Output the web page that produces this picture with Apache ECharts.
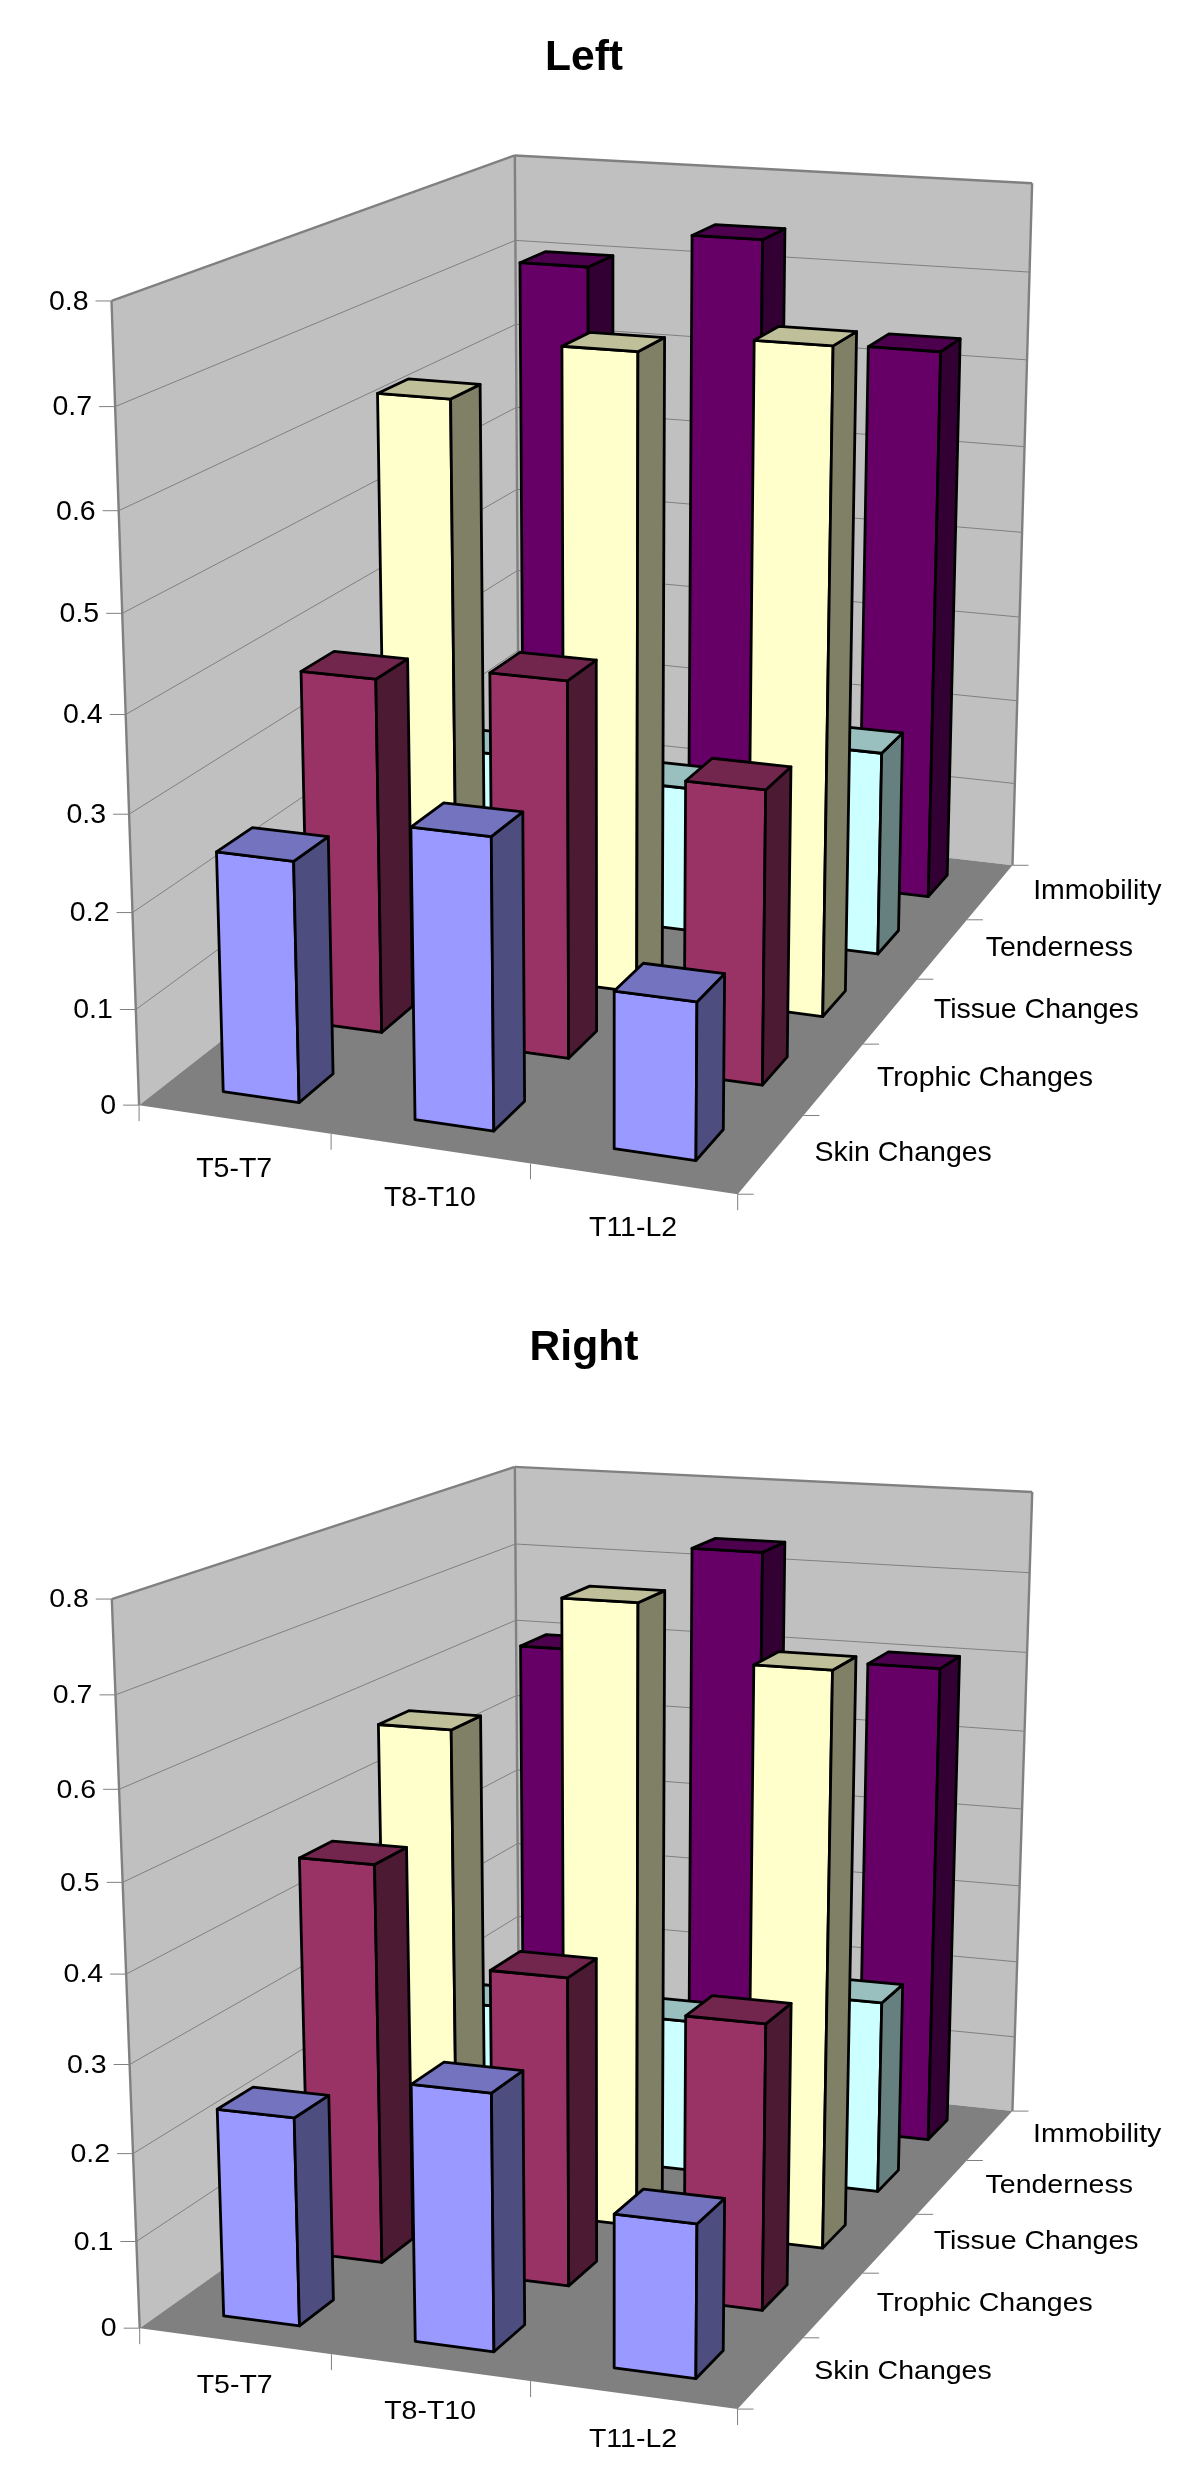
<!DOCTYPE html>
<html><head><meta charset="utf-8">
<style>html,body{margin:0;padding:0;background:#fff}#c{width:1200px;height:2477px}</style>
<script src="https://cdn.jsdelivr.net/npm/echarts@6/dist/echarts.min.js"></script>
</head><body><div id="c"></div>
<script>
// ---- data ----
const categories = ['T5-T7', 'T8-T10', 'T11-L2'];
const depthCategories = ['Skin Changes', 'Trophic Changes', 'Tissue Changes', 'Tenderness', 'Immobility'];
const tickValues = [0, 0.1, 0.2, 0.3, 0.4, 0.5, 0.6, 0.7, 0.8];
const tickLabels = ['0', '0.1', '0.2', '0.3', '0.4', '0.5', '0.6', '0.7', '0.8'];

const leftSkin = [0.25, 0.299, 0.16];
const leftTrophic = [0.379, 0.398, 0.308];
const leftTissue = [0.627, 0.691, 0.711];
const leftTenderness = [0.18, 0.165, 0.229];
const leftImmobility = [0.70, 0.743, 0.631];

const rightSkin = [0.238, 0.29, 0.172];
const rightTrophic = [0.468, 0.359, 0.329];
const rightTissue = [0.578, 0.739, 0.677];
const rightTenderness = [0.185, 0.19, 0.237];
const rightImmobility = [0.596, 0.732, 0.602];

// colours: front, top, side for each depth row
const palette = [
  ['#9999FF', '#7373BF', '#4D4D80'],
  ['#993366', '#73264D', '#4D1A33'],
  ['#FFFFCC', '#BFBF99', '#808066'],
  ['#CCFFFF', '#99BFBF', '#668080'],
  ['#660066', '#4D004D', '#330033']
];

// camera calibration: [u, depth, height, pageX, pageY], axis-box corners and wall gridline ends
const leftCamera = [
  [0,0,0,139.3,1107.3],[1,0,0,736.7,1192.7],[1,1,0,1013.3,866.7],[0,1,0,519,806],
  [0,0,.125,136.7,1010.5],[0,0,.25,133.3,914],[0,0,.375,130,815],[0,0,.5,126.7,713],
  [0,0,.625,123.3,612.7],[0,0,.75,120,511],[0,0,.875,115.7,407.3],[0,0,1,111.7,300],
  [1,1,.125,1014,783],[1,1,.25,1016,701],[1,1,.375,1018.7,618],[1,1,.5,1021,533],
  [1,1,.625,1023,447],[1,1,.75,1026,359],[1,1,.875,1029,271],[1,1,1,1032.7,183],
  [0,1,.375,516.7,573],[0,1,.5,516.7,491],[0,1,.625,516.7,408],[0,1,.75,515,326.7],[0,1,.875,515,242],[0,1,1,514.3,156]
];
const rightCamera = [
  [0,0,0,140,2330],[1,0,0,736.7,2407.7],[1,1,0,1013.3,2112.3],[0,1,0,519,2057],
  [0,0,.125,137,2242.7],[0,0,.25,133.5,2155.7],[0,0,.375,130,2066],[0,0,.5,126.7,1974],
  [0,0,.625,123,1882],[0,0,.75,120,1790],[0,0,.875,116,1695.4],[0,0,1,112,1598],
  [1,1,.125,1015,2036.7],[1,1,.25,1016,1962.5],[1,1,.375,1018,1887],[1,1,.5,1021,1809],
  [1,1,.625,1023,1732],[1,1,.75,1026,1652],[1,1,.875,1028,1572],[1,1,1,1032.7,1491.8],
  [0,1,.25,517.5,1918.6],[0,1,.375,517,1847],[0,1,.5,516.5,1772],[0,1,.625,516,1696],[0,1,.75,516,1620],[0,1,.875,515,1545],[0,1,1,514.6,1467.5]
];

// ---- projection ----
function solveCamera(a) {
  const S = 1000, n = 11, M = Array.from({length:n}, () => new Array(n + 1).fill(0));
  const add = (r, b, k) => { for (let i = 0; i < n; i++) { for (let j = 0; j < n; j++) M[i][j] += k * r[i] * r[j]; M[i][n] += k * r[i] * b; } };
  a.forEach(([u, d, w, x, y]) => {
    x /= S; y /= S;
    const k = (w === 0 || w === 1) ? 12 : 1;   // box corners count more than gridline ends
    add([u, d, w, 1, 0, 0, 0, 0, -x * u, -x * d, -x * w], x, k);
    add([0, 0, 0, 0, u, d, w, 1, -y * u, -y * d, -y * w], y, k);
  });
  for (let c = 0; c < n; c++) {
    let p = c;
    for (let r = c + 1; r < n; r++) if (Math.abs(M[r][c]) > Math.abs(M[p][c])) p = r;
    [M[c], M[p]] = [M[p], M[c]];
    for (let r = 0; r < n; r++) if (r !== c) {
      const f = M[r][c] / M[c][c];
      for (let k = c; k <= n; k++) M[r][k] -= f * M[c][k];
    }
  }
  const q = M.map((row, i) => row[n] / row[i]);
  return (u, d, w) => {
    const h = q[8] * u + q[9] * d + q[10] * w + 1;
    return [S * (q[0] * u + q[1] * d + q[2] * w + q[3]) / h, S * (q[4] * u + q[5] * d + q[6] * w + q[7]) / h];
  };
}

const BAR = 0.4;           // bar fraction of its band, both ways
const WALL = '#C0C0C0', FLOOR = '#808080', EDGE = '#808080', FONT = '"Liberation Sans", Arial, sans-serif';
const poly = (points, fill, stroke, lineWidth) => ({
  type: 'polygon', shape: { points }, style: { fill, stroke, lineWidth, lineJoin: 'round' }
});
const seg = (a, b, lineWidth) => ({
  type: 'line', shape: { x1: a[0], y1: a[1], x2: b[0], y2: b[1] }, style: { stroke: EDGE, lineWidth, fill: null }
});

function barRender(project, row) {
  return (params, api) => {
    const cs = params.coordSys, cat = api.value(0), val = api.value(1);
    const band = api.size([1, 0])[0];
    const base = api.coord([cat, 0]), top = api.coord([cat, val]);
    const u0 = (base[0] - band * BAR / 2 - cs.x) / cs.width, u1 = (base[0] + band * BAR / 2 - cs.x) / cs.width;
    const w = (base[1] - top[1]) / cs.height;
    const n = depthCategories.length;
    const d0 = (row + .5 - BAR / 2) / n, d1 = (row + .5 + BAR / 2) / n;
    const [front, lid, side] = palette[row];
    return { type: 'group', children: [
      poly([project(u0,d0,0), project(u1,d0,0), project(u1,d0,w), project(u0,d0,w)], front, '#000', 2.8),
      poly([project(u1,d0,0), project(u1,d1,0), project(u1,d1,w), project(u1,d0,w)], side, '#000', 2.8),
      poly([project(u0,d0,w), project(u1,d0,w), project(u1,d1,w), project(u0,d1,w)], lid, '#000', 2.8)
    ]};
  };
}

function frameRender(project) {
  return (params, api) => {
    const cs = params.coordSys, zero = api.coord([0, 0])[1];
    const wOf = v => (zero - api.coord([0, v])[1]) / cs.height;
    const c = [
      poly([project(0,1,0), project(1,1,0), project(1,1,1), project(0,1,1)], WALL, null, 0),
      poly([project(0,0,0), project(0,1,0), project(0,1,1), project(0,0,1)], WALL, null, 0),
      poly([project(0,0,0), project(1,0,0), project(1,1,0), project(0,1,0)], FLOOR, null, 0)
    ];
    tickValues.forEach((v, i) => {
      const w = wOf(v);
      if (i > 0 && i < tickValues.length - 1) {
        c.push(seg(project(0,0,w), project(0,1,w), 1), seg(project(0,1,w), project(1,1,w), 1));
      }
      const p = project(0,0,w);
      c.push(seg([p[0] - 16, p[1]], p, 1));
    });
    c.push(seg(project(0,0,1), project(0,1,1), 2.4), seg(project(0,1,1), project(1,1,1), 2.4),
           seg(project(0,0,0), project(0,0,1), 2.4), seg(project(0,1,0), project(0,1,1), 2.4), seg(project(1,1,0), project(1,1,1), 2.4));
    for (let i = 0; i <= categories.length; i++) {
      const p = project(i / categories.length, 0, 0);
      c.push(seg(p, [p[0], p[1] + 16], 1));
    }
    for (let i = 0; i <= depthCategories.length; i++) {
      const p = project(1, i / depthCategories.length, 0);
      c.push(seg(p, [p[0] + 16, p[1]], 1));
    }
    return { type: 'group', children: c };
  };
}

function labelRender(project, scaleY, catDy) {
  const text = (x, y, s, align) => ({
    type: 'text', x, y, scaleY,
    style: { text: s, fill: '#000', fontFamily: FONT, fontSize: 28.5, align, verticalAlign: 'middle' }
  });
  return (params, api) => {
    const cs = params.coordSys, zero = api.coord([0, 0])[1], c = [];
    tickValues.forEach((v, i) => {
      const p = project(0, 0, (zero - api.coord([0, v])[1]) / cs.height);
      c.push(text(p[0] - 23, p[1] + 1, tickLabels[i], 'right'));
    });
    categories.forEach((s, i) => {
      const p = project((i + .5) / categories.length, 0, 0);
      c.push(text(p[0], p[1] + catDy, s, 'center'));
    });
    depthCategories.forEach((s, i) => {
      const p = project(1, (i + .5) / depthCategories.length, 0);
      c.push(text(p[0] + 43, p[1] - 1, s, 'left'));
    });
    return { type: 'group', children: c };
  };
}

function panelSeries(axis, project, rows, scaleY, catDy) {
  const list = [{
    type: 'custom', xAxisIndex: axis, yAxisIndex: axis, data: [[0, 0]], z: 1, silent: true,
    renderItem: frameRender(project)
  }];
  for (let row = rows.length - 1; row >= 0; row--) {
    list.push({
      type: 'custom', name: depthCategories[row], xAxisIndex: axis, yAxisIndex: axis, z: 10 + (rows.length - row), silent: true,
      encode: { x: 0, y: 1 },
      data: rows[row].map((v, i) => [i, v]),
      renderItem: barRender(project, row)
    });
  }
  list.push({
    type: 'custom', xAxisIndex: axis, yAxisIndex: axis, data: [[0, 0]], z: 30, silent: true,
    renderItem: labelRender(project, scaleY, catDy)
  });
  return list;
}

const hiddenX = i => ({ type: 'category', gridIndex: i, data: categories, show: false });
const hiddenY = i => ({ type: 'value', gridIndex: i, min: 0, max: 0.8, interval: 0.1, show: false });
const chart = echarts.init(document.getElementById('c'), null, { renderer: 'canvas', width: 1200, height: 2477 });
chart.setOption({
  animation: false,
  backgroundColor: '#fff',
  title: [
    { text: 'Left', left: 579, top: 32, textAlign: 'center', textStyle: { fontFamily: FONT, fontSize: 42.6, fontWeight: 'bold', color: '#000' } },
    { text: 'Right', left: 579, top: 1322, textAlign: 'center', textStyle: { fontFamily: FONT, fontSize: 42.6, fontWeight: 'bold', color: '#000' } }
  ],
  grid: [
    { left: 100, top: 150, width: 950, height: 1050, show: false },
    { left: 100, top: 1450, width: 950, height: 950, show: false }
  ],
  xAxis: [hiddenX(0), hiddenX(1)],
  yAxis: [hiddenY(0), hiddenY(1)],
  series: [
    ...panelSeries(0, solveCamera(leftCamera), [leftSkin, leftTrophic, leftTissue, leftTenderness, leftImmobility], 1, 50),
    ...panelSeries(1, solveCamera(rightCamera), [rightSkin, rightTrophic, rightTissue, rightTenderness, rightImmobility], 0.92, 44.5)
  ]
});
</script></body></html>
